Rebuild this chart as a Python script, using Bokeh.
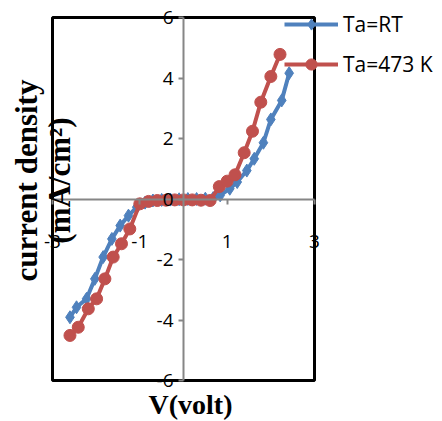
import math
from bokeh.plotting import figure
from bokeh.models import Range1d, FixedTicker, Label, Legend, LegendItem, BoxAnnotation
from bokeh.embed import file_html
from bokeh.resources import INLINE

# ---- data ----
v_rt = [-2.60, -2.45, -2.22, -2.03, -1.84, -1.64, -1.45, -1.26, -1.07, -0.88,
        -0.70, -0.50, -0.30, -0.10, 0.10, 0.30, 0.50, 0.68, 0.84, 1.06,
        1.23, 1.45, 1.62, 1.83, 2.00, 2.25, 2.42]
j_rt = [-3.91, -3.58, -3.30, -2.64, -1.92, -1.32, -0.88, -0.55, -0.27, -0.12,
        -0.05, -0.03, -0.02, -0.01, 0.00, 0.00, 0.01, 0.03, 0.12, 0.34,
        0.56, 0.94, 1.33, 1.86, 2.63, 3.26, 4.16]

v_473 = [-2.60, -2.41, -2.18, -1.99, -1.80, -1.61, -1.42, -1.23, -1.00, -0.80,
         -0.60, -0.40, -0.20, 0.00, 0.20, 0.40, 0.61, 0.82, 1.00, 1.18,
         1.39, 1.58, 1.77, 2.00, 2.21]
j_473 = [-4.51, -4.24, -3.63, -3.30, -2.64, -1.92, -1.48, -0.99, -0.16, -0.08,
         -0.05, -0.04, -0.03, -0.03, -0.03, -0.04, -0.05, 0.41, 0.59, 0.80,
         1.53, 2.24, 3.20, 4.05, 4.78]

series_names = ["Ta=RT", "Ta=473 K"]
x_ticks = [-3, -1, 1, 3]
x_tick_labels = ["-3", "-1", "1", "3"]
y_ticks = [-6, -4, -2, 0, 2, 4, 6]
y_tick_labels = ["-6", "-4", "-2", "0", "2", "4", "6"]
x_title = "V(volt)"
y_title_1 = "current density"
y_title_2 = "(mA/cm\u00b2)"

# axis extents of the plotted box
X_MIN, X_MAX = -3, 3
Y_MIN, Y_MAX = -6, 6

# ---- layout (pixels) ----
W, H = 442, 421
BOX_L, BOX_R, BOX_T, BOX_B = 52, 314, 17, 380
sx = (BOX_R - BOX_L) / (X_MAX - X_MIN)
sy = (BOX_B - BOX_T) / (Y_MAX - Y_MIN)
x_lo = X_MIN - BOX_L / sx
x_hi = X_MAX + (W - BOX_R) / sx
y_hi = Y_MAX + BOX_T / sy
y_lo = Y_MIN - (H - BOX_B) / sy

BLUE = "#4F81BD"
RED = "#C0504D"
AXIS_GRAY = "#868686"

p = figure(width=W, height=H, min_border=0,
           x_range=Range1d(x_lo, x_hi), y_range=Range1d(y_lo, y_hi),
           output_backend="svg", toolbar_location=None)

p.xgrid.visible = False
p.ygrid.visible = False
p.outline_line_color = None
p.background_fill_color = "white"
p.border_fill_color = "white"

for ax in (p.xaxis[0], p.yaxis[0]):
    ax.fixed_location = 0
    ax.axis_line_color = AXIS_GRAY
    ax.axis_line_width = 2
    ax.major_tick_line_color = AXIS_GRAY
    ax.major_tick_line_width = 2
    ax.major_tick_out = 5
    ax.major_tick_in = 0
    ax.minor_tick_line_color = None
    ax.major_label_text_font = "Open Sans"
    ax.major_label_text_font_size = "19px"
    ax.major_label_text_color = "black"

p.xaxis.bounds = (X_MIN, X_MAX)
p.yaxis.bounds = (Y_MIN, Y_MAX)
p.xaxis.ticker = FixedTicker(ticks=x_ticks)
p.yaxis.ticker = FixedTicker(ticks=y_ticks)
p.xaxis.major_label_overrides = {t: s for t, s in zip(x_ticks, x_tick_labels)}
p.yaxis.major_label_overrides = {t: s for t, s in zip(y_ticks, y_tick_labels)}
p.xaxis.major_label_standoff = 31
p.yaxis.major_label_standoff = 5

l1 = p.line(v_rt, j_rt, line_color=BLUE, line_width=4)
m1 = p.scatter(v_rt, j_rt, marker="diamond", size=13, fill_color=BLUE, line_color=BLUE)
l2 = p.line(v_473, j_473, line_color=RED, line_width=4)
m2 = p.scatter(v_473, j_473, marker="circle", size=12, fill_color=RED, line_color=RED)

# plot-area border
p.add_layout(BoxAnnotation(left=X_MIN, right=X_MAX, bottom=Y_MIN, top=Y_MAX,
                           fill_alpha=0, line_color="black", line_alpha=1,
                           line_width=3, level="underlay"))

legend = Legend(items=[LegendItem(label=series_names[0], renderers=[l1, m1]),
                       LegendItem(label=series_names[1], renderers=[l2, m2])],
                location=(284, H - 78), glyph_width=54, glyph_height=28,
                label_standoff=5, spacing=12, padding=0, margin=0,
                label_text_font="Open Sans", label_text_font_size="21px",
                label_text_color="black",
                label_height=20, border_line_alpha=0, background_fill_alpha=0)
p.add_layout(legend)

title_font = "Liberation Serif"
p.add_layout(Label(x=26, y=H - 180, x_units="screen", y_units="screen", text=y_title_1,
                   angle=math.pi / 2, text_align="center", text_baseline="middle",
                   text_color="black",
                   text_font=title_font, text_font_style="bold", text_font_size="31px"))
p.add_layout(Label(x=59, y=H - 180, x_units="screen", y_units="screen", text=y_title_2,
                   angle=math.pi / 2, text_align="center", text_baseline="middle",
                   text_color="black",
                   text_font=title_font, text_font_style="bold", text_font_size="31px"))
p.add_layout(Label(x=190, y=H - 404, x_units="screen", y_units="screen", text=x_title,
                   text_align="center", text_baseline="middle",
                   text_color="black",
                   text_font=title_font, text_font_style="bold", text_font_size="28px"))

open("out.html", "w").write(file_html(p, INLINE))
